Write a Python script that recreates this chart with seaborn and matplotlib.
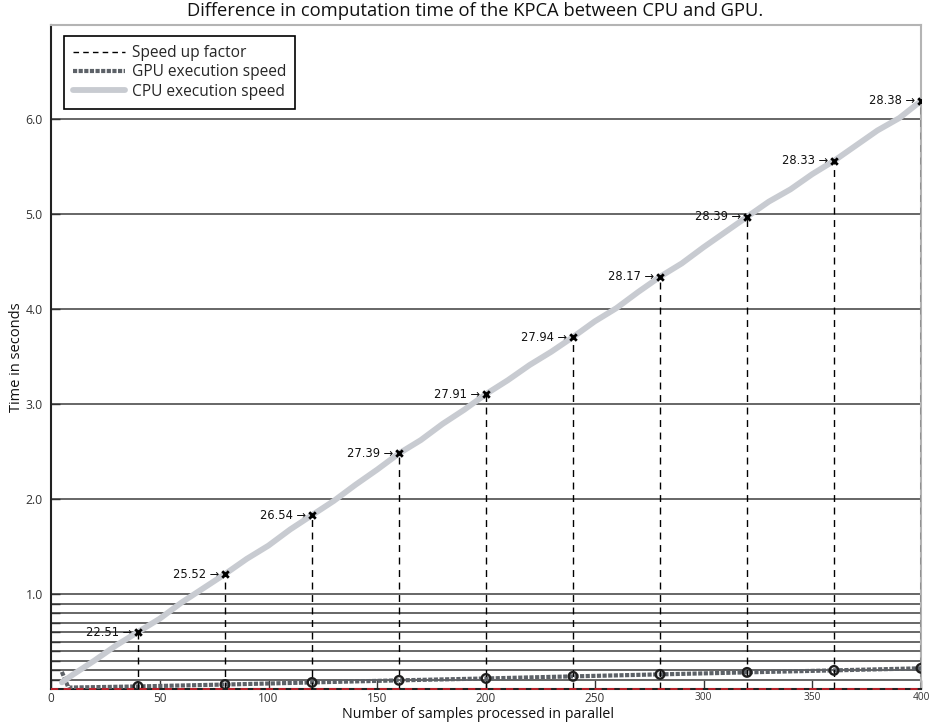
import matplotlib
matplotlib.use("Agg")
import matplotlib.pyplot as plt
import seaborn as sns
from matplotlib.lines import Line2D

# data
cpu_samples = [5, 10, 20, 30, 40, 50, 60, 70, 80, 90, 100, 110, 120, 130, 140, 150,
               160, 170, 180, 190, 200, 210, 220, 230, 240, 250, 260, 270, 280, 290,
               300, 310, 320, 330, 340, 350, 360, 370, 380, 390, 400]
cpu_time = [0.7, 1.5, 3.0, 4.6, 6.0, 7.4, 9.1, 10.6, 12.1, 13.7, 15.1, 16.8, 18.3, 19.8,
            21.5, 23.1, 24.8, 26.2, 27.9, 29.4, 31.05, 32.5, 34.1, 35.5, 37.05, 38.7,
            40.1, 41.8, 43.4, 44.8, 46.5, 48.1, 49.7, 51.3, 52.6, 54.2, 55.6, 57.2,
            58.8, 60.1, 61.9]

gpu_samples = [5, 8, 40, 80, 120, 160, 200, 240, 280, 320, 360, 400]
gpu_time = [1.8, 0.15, 0.27, 0.47, 0.69, 0.91, 1.11, 1.33, 1.54, 1.75, 1.96, 2.18]

marker_samples = [40, 80, 120, 160, 200, 240, 280, 320, 360, 400]
marker_cpu = [6.0, 12.1, 18.3, 24.8, 31.05, 37.05, 43.4, 49.7, 55.6, 61.9]
marker_gpu = [0.27, 0.47, 0.69, 0.91, 1.11, 1.33, 1.54, 1.75, 1.96, 2.18]
speedup = [22.51, 25.52, 26.54, 27.39, 27.91, 27.94, 28.17, 28.39, 28.33, 28.38]

ytick_pos = [1, 2, 3, 4, 5, 6, 7, 8, 9, 10, 20, 30, 40, 50, 60]
ytick_lab = ["", "", "", "", "", "", "", "", "", "1.0", "2.0", "3.0", "4.0", "5.0", "6.0"]
xtick_pos = [0, 50, 100, 150, 200, 250, 300, 350, 400]

CPU_COL = "#c8cbd1"
GPU_COL = "#5d6268"
GPU_DOTS = (0, (1, 0.35))

sns.set_theme(style="white")
plt.rcParams["font.family"] = ["Open Sans", "DejaVu Sans"]

fig = plt.figure(figsize=(9.3, 7.27), dpi=100)
ax = fig.add_axes([51 / 930, 1 - 689 / 727, 870 / 930, 664 / 727])

sns.lineplot(x=cpu_samples, y=cpu_time, ax=ax, color=CPU_COL, lw=4.2, zorder=4)
sns.lineplot(x=gpu_samples, y=gpu_time, ax=ax, color=GPU_COL, lw=3.0,
             linestyle=GPU_DOTS, zorder=3)

ax.vlines(marker_samples, 0, marker_cpu, colors="black", lw=1,
          linestyles=(0, (5, 4)), zorder=5)
sns.scatterplot(x=marker_samples, y=marker_cpu, ax=ax, marker="x", s=22,
                color="black", linewidth=2.0, zorder=6)
sns.scatterplot(x=marker_samples, y=marker_gpu, ax=ax, marker="o", s=38,
                fc="none", ec="#1e1e1e", linewidth=1.7, zorder=6)

for xs, yc, sp in zip(marker_samples, marker_cpu, speedup):
    ax.annotate(f"{sp:.2f} \u2192", xy=(xs, yc), xytext=(-4, 0),
                textcoords="offset points", ha="right", va="center",
                fontsize=8.3, family=["DejaVu Sans"], color="#111111")

ax.axhline(0, color="#c8202a", lw=1.3, linestyle=(0, (4, 3)), zorder=7, clip_on=False)

ax.set_xlim(0, 400)
ax.set_ylim(0, 69.9)
ax.set_yticks(ytick_pos)
ax.set_yticklabels(ytick_lab, fontsize=8.8)
ax.set_xticks(xtick_pos)
ax.set_xticklabels([str(v) for v in xtick_pos])
for lab, v in zip(ax.get_xticklabels(), xtick_pos):
    lab.set_fontsize(8.5 if v < 300 else 7.3)
ax.tick_params(axis="both", direction="in", length=6.5, width=1, colors="#333333",
               bottom=True, left=True)
ax.tick_params(axis="x", pad=2.5)
ax.tick_params(axis="y", pad=6)
ax.yaxis.grid(True, color="#5a5a5a", lw=1.3)
ax.xaxis.grid(False)

for side in ["left", "bottom"]:
    ax.spines[side].set_color("#222222")
    ax.spines[side].set_linewidth(1.5)
for side in ["top", "right"]:
    ax.spines[side].set_color("#b4b4b4")
    ax.spines[side].set_linewidth(1.5)

handles = [
    Line2D([], [], color="black", lw=1, linestyle=(0, (4, 3))),
    Line2D([], [], color=GPU_COL, lw=3.0, linestyle=GPU_DOTS),
    Line2D([], [], color=CPU_COL, lw=4.2),
]
labels = ["Speed up factor", "GPU execution speed", "CPU execution speed"]
leg = ax.legend(handles, labels, loc="upper left", bbox_to_anchor=(64 / 930, 1 - 36 / 727),
                bbox_transform=fig.transFigure, borderaxespad=0, fontsize=11.2,
                handlelength=3.3, handletextpad=0.45, labelspacing=0.2,
                borderpad=0.6, fancybox=False, framealpha=1, edgecolor="black")
leg.get_frame().set_linewidth(1.2)

fig.text(475 / 930, 1 - 11 / 727, "Difference in computation time of the KPCA between CPU and GPU.",
         ha="center", va="center", fontsize=13.2, color="#111111")
fig.text(478 / 930, 1 - 715 / 727, "Number of samples processed in parallel",
         ha="center", va="center", fontsize=10.3, color="#111111")
fig.text(16 / 930, 1 - 357 / 727, "Time in seconds", rotation=90,
         ha="center", va="center", fontsize=10.5, color="#111111")

fig.savefig("out.png", dpi=100)
